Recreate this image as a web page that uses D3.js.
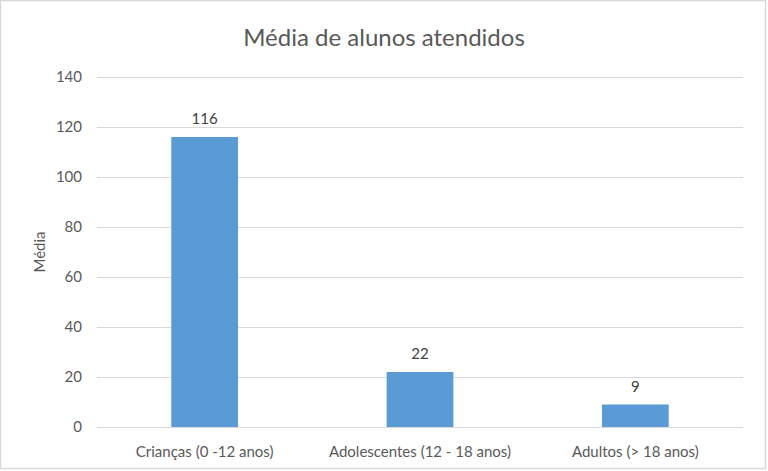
<!DOCTYPE html>
<html>
<head>
<meta charset="utf-8">
<script src="https://cdn.jsdelivr.net/npm/d3@7"></script>
<style>
  body { margin: 0; background: #fff; }
  svg { display: block; }
</style>
</head>
<body>
<svg id="chart"></svg>
<script>
// Chart data
const categories = ["Crianças (0 -12 anos)", "Adolescentes (12 - 18 anos)", "Adultos (> 18 anos)"];
const values = [116, 22, 9];
const yTicks = [0, 20, 40, 60, 80, 100, 120, 140];

const width = 768;
const height = 471;
const margin = { top: 77, right: 25, bottom: 44, left: 97 };
const font = "Lato, 'Open Sans', sans-serif";
const textColor = "#595959";

const svg = d3.select("#chart")
    .attr("width", width)
    .attr("height", height);

// Outer border
svg.append("rect")
    .attr("x", 0.5).attr("y", 0.5)
    .attr("width", width - 3).attr("height", height - 3)
    .attr("fill", "#fff")
    .attr("stroke", "#d9d9d9")
    .attr("stroke-width", 1.5);

// Scales
const x = d3.scaleBand()
    .domain(categories)
    .range([margin.left, width - margin.right])
    .paddingInner(0.69)
    .paddingOuter(0.345);

const y = d3.scaleLinear()
    .domain([0, 140])
    .range([height - margin.bottom, margin.top]);

// Gridlines
svg.append("g")
    .selectAll("line")
    .data(yTicks)
    .join("line")
    .attr("x1", margin.left)
    .attr("x2", width - margin.right)
    .attr("y1", d => Math.round(y(d)) + 0.5)
    .attr("y2", d => Math.round(y(d)) + 0.5)
    .attr("stroke", "#d9d9d9")
    .attr("stroke-width", 1);

// Y axis tick labels
svg.append("g")
    .selectAll("text")
    .data(yTicks)
    .join("text")
    .attr("x", margin.left - 15)
    .attr("y", d => y(d))
    .attr("dy", "0.35em")
    .attr("text-anchor", "end")
    .attr("font-family", font)
    .attr("font-size", "15px")
    .attr("fill", textColor)
    .text(d => d);

// Bars
svg.append("g")
    .selectAll("rect")
    .data(values)
    .join("rect")
    .attr("x", (d, i) => x(categories[i]))
    .attr("y", d => y(d))
    .attr("width", x.bandwidth())
    .attr("height", d => y(0) - y(d))
    .attr("fill", "#5b9bd5");

// Value labels
svg.append("g")
    .selectAll("text")
    .data(values)
    .join("text")
    .attr("x", (d, i) => x(categories[i]) + x.bandwidth() / 2)
    .attr("y", d => y(d) - 13)
    .attr("text-anchor", "middle")
    .attr("font-family", font)
    .attr("font-size", "15px")
    .attr("fill", "#404040")
    .text(d => d);

// X axis category labels
svg.append("g")
    .selectAll("text")
    .data(categories)
    .join("text")
    .attr("x", d => x(d) + x.bandwidth() / 2)
    .attr("y", height - margin.bottom + 30)
    .attr("text-anchor", "middle")
    .attr("font-family", font)
    .attr("font-size", "15px")
    .attr("fill", textColor)
    .text(d => d);

// Title
svg.append("text")
    .attr("x", width / 2)
    .attr("y", 46)
    .attr("text-anchor", "middle")
    .attr("font-family", font)
    .attr("font-size", "24px")
    .attr("fill", textColor)
    .text("Média de alunos atendidos");

// Y axis title
svg.append("text")
    .attr("transform", `translate(45, ${(y(0) + y(140)) / 2}) rotate(-90)`)
    .attr("text-anchor", "middle")
    .attr("font-family", font)
    .attr("font-size", "15px")
    .attr("fill", textColor)
    .text("Média");
</script>
</body>
</html>
